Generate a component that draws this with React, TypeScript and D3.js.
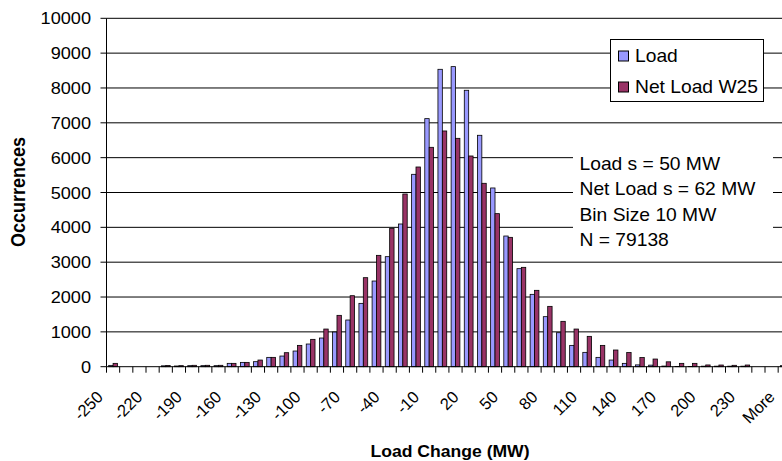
import * as d3 from "d3";

// bins: -250 .. 250 step 10, then "More"
const binStarts = d3.range(-250, 251, 10);
const categories = [...binStarts.map(String), "More"];

// Load
const loadCounts = [
  38, 0, 0, 0, 25, 20, 30, 30, 30, 96,
  124, 144, 268, 306, 450, 651, 823, 995, 1340, 1818,
  2459, 3158, 4096, 5522, 7120, 8536, 8613, 7934, 6642, 5130,
  3751, 2814, 2077, 1436, 976, 612, 412, 268, 191, 96,
  52, 45, 18, 8, 8, 15, 15, 15, 15, 0,
  0, 30,
];

// Net Load W25
const netLoadCounts = [
  96, 0, 0, 0, 35, 30, 40, 40, 40, 96,
  124, 191, 268, 402, 612, 785, 1081, 1474, 2038, 2555,
  3196, 3972, 4957, 5732, 6297, 6766, 6555, 6048, 5264, 4393,
  3713, 2852, 2192, 1732, 1302, 1081, 871, 612, 479, 405,
  262, 220, 140, 96, 96, 50, 48, 40, 48, 0,
  0, 40,
];

const seriesNames = ["Load", "Net Load W25"];
const seriesColors = ["#9999FF", "#993366"];
const yTicks = d3.range(0, 10001, 1000);
const statsLines = ["Load s = 50 MW", "Net Load s = 62 MW", "Bin Size 10 MW", "N = 79138"];

const W = 782;
const H = 461;
const FONT = "'Liberation Sans', Arial, sans-serif";
const SX = 1.1; // text in the picture is a bit wide

export default function App() {
  const left = 106.5;
  const step = 13.17;
  const top = 18.3;
  const bottom = 366.7;

  const x = d3
    .scaleBand<string>()
    .domain(categories)
    .range([left, left + step * categories.length])
    .padding(0);
  const xs = d3
    .scaleBand<number>()
    .domain([0, 1])
    .range([0, x.bandwidth()])
    .paddingInner(0)
    .paddingOuter(0.5);
  const y = d3.scaleLinear().domain([0, 10000]).range([bottom, top]);

  const series = [loadCounts, netLoadCounts];
  const xEnd = left + step * categories.length;

  return (
    <div style={{ position: "absolute", left: 0, top: 0 }}>
      <svg width={W} height={H} style={{ display: "block", background: "#fff" }}>
        {/* gridlines */}
        {yTicks.slice(1).map((t) => (
          <line key={t} x1={left} x2={xEnd} y1={y(t)} y2={y(t)} stroke="#000" strokeWidth={1} />
        ))}

        {/* bars */}
        {series.map((vals, s) =>
          vals.map((v, i) =>
            v > 0 ? (
              <rect
                key={`${s}-${i}`}
                x={x(categories[i])! + xs(s)!}
                y={y(v)}
                width={xs.bandwidth()}
                height={bottom - y(v)}
                fill={seriesColors[s]}
                stroke="#000"
                strokeWidth={0.8}
              />
            ) : null
          )
        )}

        {/* y axis */}
        <line x1={left} x2={left} y1={top} y2={bottom} stroke="#000" />
        {yTicks.map((t) => (
          <g key={t}>
            <line x1={left - 6} x2={left} y1={y(t)} y2={y(t)} stroke="#000" />
            <text
              transform={`translate(91,${y(t) + 6}) scale(${SX},1)`}
              textAnchor="end"
              fontFamily={FONT}
              fontSize={16.5}
              fill="#000"
            >
              {t}
            </text>
          </g>
        ))}

        {/* x axis */}
        <line x1={left} x2={xEnd} y1={bottom} y2={bottom} stroke="#000" />
        {categories.map((c) => (
          <line
            key={c}
            x1={x(c)!}
            x2={x(c)!}
            y1={bottom}
            y2={bottom + 6}
            stroke="#000"
          />
        ))}
        {categories.map((c, i) =>
          i % 3 === 0 ? (
            <text
              key={c}
              transform={`translate(${x(c)! + x.bandwidth() / 2 - 9},398) rotate(-45)`}
              textAnchor="end"
              fontFamily={FONT}
              fontSize={16.5}
              fill="#000"
            >
              {c}
            </text>
          ) : null
        )}

        {/* axis titles */}
        <text
          transform={`translate(450,456.5) scale(${SX},1)`}
          textAnchor="middle"
          fontFamily={FONT}
          fontWeight="bold"
          fontSize={16}
          fill="#000"
        >
          Load Change (MW)
        </text>
        <text
          transform={`translate(25,192) scale(${SX},1) rotate(-90)`}
          textAnchor="middle"
          fontFamily={FONT}
          fontWeight="bold"
          fontSize={18}
          fill="#000"
        >
          Occurrences
        </text>

        {/* legend */}
        <rect x={610.5} y={39.5} width={153} height={62} fill="#fff" stroke="#000" />
        {seriesNames.map((n, s) => (
          <g key={n}>
            <rect
              x={618.5}
              y={51 + s * 31}
              width={10}
              height={10}
              fill={seriesColors[s]}
              stroke="#000"
            />
            <text
              transform={`translate(635,${61.7 + s * 31}) scale(${SX},1)`}
              fontFamily={FONT}
              fontSize={17.5}
              fill="#000"
            >
              {n}
            </text>
          </g>
        ))}

        {/* stats box */}
        <rect x={573} y={145} width={200} height={111} fill="#fff" />
        {statsLines.map((l, k) => (
          <text
            key={l}
            transform={`translate(579.5,${170 + k * 25.3}) scale(${SX},1)`}
            fontFamily={FONT}
            fontSize={17.5}
            fill="#000"
          >
            {l}
          </text>
        ))}
      </svg>
    </div>
  );
}
